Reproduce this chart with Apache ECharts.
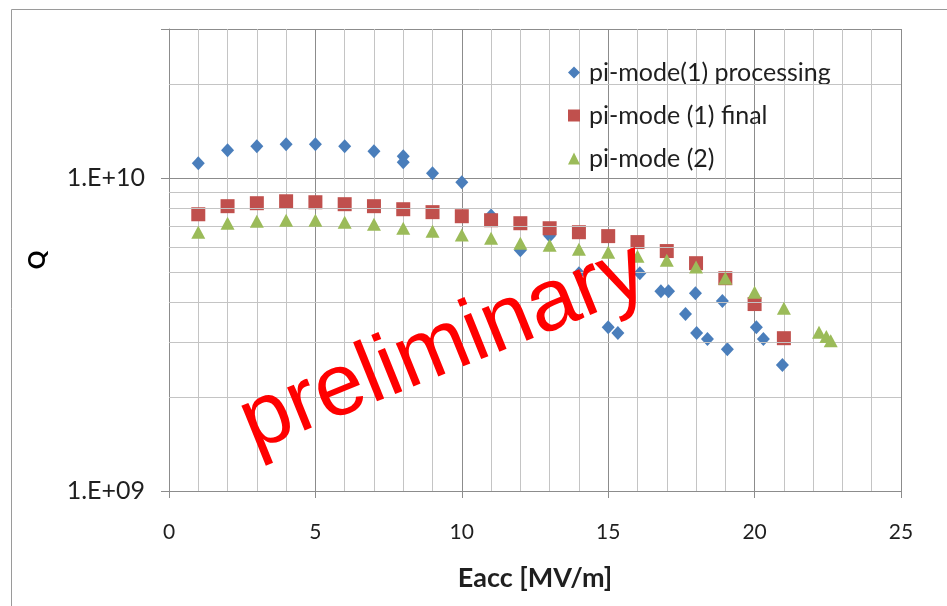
<!DOCTYPE html>
<html>
<head>
<meta charset="utf-8">
<title>Q vs Eacc</title>
<script src="https://cdn.jsdelivr.net/npm/echarts@6/dist/echarts.min.js"></script>
<style>
  html, body { margin: 0; padding: 0; background: #ffffff; }
  #chart { width: 947px; height: 606px; }
</style>
</head>
<body>
<div id="chart"></div>
<script>
// Measured Q0 against accelerating gradient
const processingEacc = [1, 2, 3, 4, 5, 6, 7, 8, 8, 9, 10, 11, 12, 13, 14, 15, 15.33, 16.08, 16.8, 17.06, 17.64, 17.98, 18.02, 18.39, 18.9, 19.07, 20.06, 20.3, 20.95];
const processingQ = [1.117e10, 1.228e10, 1.265e10, 1.284e10, 1.284e10, 1.265e10, 1.219e10, 1.175e10, 1.124e10, 1.038e10, 9.71e9, 7.6e9, 5.89e9, 6.55e9, 4.97e9, 3.34e9, 3.20e9, 4.97e9, 4.35e9, 4.35e9, 3.68e9, 4.29e9, 3.20e9, 3.06e9, 4.05e9, 2.84e9, 3.34e9, 3.06e9, 2.53e9];

const finalEacc = [1, 2, 3, 4, 5, 6, 7, 8, 9, 10, 11, 12, 13, 14, 15, 16, 17, 18, 19, 20, 21];
const finalQ = [7.67e9, 8.14e9, 8.32e9, 8.44e9, 8.38e9, 8.26e9, 8.14e9, 7.96e9, 7.79e9, 7.56e9, 7.34e9, 7.18e9, 6.92e9, 6.72e9, 6.53e9, 6.25e9, 5.85e9, 5.35e9, 4.79e9, 3.96e9, 3.08e9];

const mode2Eacc = [1, 2, 3, 4, 5, 6, 7, 8, 9, 10, 11, 12, 13, 14, 15, 16, 17, 18, 19, 20, 21, 22.2, 22.45, 22.6];
const mode2Q = [6.72e9, 7.18e9, 7.29e9, 7.34e9, 7.34e9, 7.23e9, 7.13e9, 6.92e9, 6.77e9, 6.58e9, 6.43e9, 6.2e9, 6.11e9, 5.93e9, 5.8e9, 5.63e9, 5.47e9, 5.2e9, 4.79e9, 4.32e9, 3.84e9, 3.22e9, 3.12e9, 3.02e9];

const seriesNames = ['pi-mode(1) processing', 'pi-mode (1) final', 'pi-mode (2)'];
const seriesColors = ['#4a7ebb', '#c0504d', '#9bbb59'];

// Log-axis minor gridlines between decades
const minorGridQ = [2e9, 3e9, 4e9, 5e9, 6e9, 7e9, 8e9, 9e9, 2e10];

const FONT = 'Lato, "Open Sans", sans-serif';
const TEXT = '#1f1f1f';

function pairs(xs, ys) { return xs.map((x, i) => [x, ys[i]]); }

function decadeLabel(v) {
  const e = Math.log10(v);
  if (Math.abs(e - Math.round(e)) > 1e-6) return '';
  const n = Math.round(e);
  return '1.E+' + (n < 10 ? '0' + n : String(n));
}

const chart = echarts.init(document.getElementById('chart'), null, { renderer: 'canvas' });

chart.setOption({
  backgroundColor: '#ffffff',
  animation: false,
  textStyle: { fontFamily: FONT },
  grid: { left: 169, right: 46, top: 29, bottom: 115, containLabel: false },
  legend: {
    data: seriesNames.map((n, i) => ({ name: n, icon: ['diamond', 'rect', 'triangle'][i] })),
    orient: 'vertical',
    left: 563,
    top: 55,
    itemWidth: 12,
    itemHeight: 12,
    itemGap: 18,
    textStyle: { fontFamily: FONT, fontSize: 25, lineHeight: 25, color: TEXT, padding: [0, 0, 0, 4] }
  },
  xAxis: {
    type: 'value',
    min: 0,
    max: 25,
    interval: 5,
    name: 'Eacc [MV/m]',
    nameLocation: 'middle',
    nameGap: 74,
    nameTextStyle: { fontFamily: FONT, fontSize: 27, fontWeight: 'bold', color: TEXT },
    axisLine: { show: true, lineStyle: { color: '#8c8c8c', width: 1 } },
    axisTick: { show: true, inside: false, length: 7, lineStyle: { color: '#8c8c8c' } },
    axisLabel: { fontFamily: FONT, fontSize: 21, color: TEXT, margin: 31 },
    splitLine: { show: true, lineStyle: { color: '#8c8c8c', width: 1 } },
    minorTick: { show: false, splitNumber: 5 },
    minorSplitLine: { show: true, lineStyle: { color: '#c4c4c4', width: 1 } }
  },
  yAxis: {
    type: 'log',
    logBase: 10,
    min: 1e9,
    max: 3e10,
    name: 'Q',
    nameLocation: 'middle',
    nameRotate: 90,
    nameGap: 120,
    nameTextStyle: { fontFamily: FONT, fontSize: 23, fontWeight: 'bold', color: '#000000' },
    axisLine: { show: true, lineStyle: { color: '#8c8c8c', width: 1 } },
    axisTick: { show: true, inside: false, length: 8, lineStyle: { color: '#8c8c8c' } },
    axisLabel: { fontFamily: FONT, fontSize: 25, color: TEXT, margin: 24, formatter: decadeLabel },
    splitLine: { show: true, lineStyle: { color: '#8c8c8c', width: 1 } }
  },
  series: [
    {
      name: 'minor-grid',
      type: 'scatter',
      data: [],
      silent: true,
      z: 1,
      markLine: {
        silent: true,
        symbol: ['none', 'none'],
        animation: false,
        label: { show: false },
        lineStyle: { color: '#c4c4c4', width: 1, type: 'solid' },
        emphasis: { disabled: true },
        data: minorGridQ.map(v => ({ yAxis: v }))
      }
    },
    {
      name: seriesNames[0],
      type: 'scatter',
      symbol: 'diamond',
      symbolSize: [13, 14],
      itemStyle: { color: seriesColors[0], opacity: 1 },
      z: 3,
      data: pairs(processingEacc, processingQ)
    },
    {
      name: seriesNames[1],
      type: 'scatter',
      symbol: 'rect',
      symbolSize: 14,
      itemStyle: { color: seriesColors[1], opacity: 1 },
      z: 4,
      data: pairs(finalEacc, finalQ)
    },
    {
      name: seriesNames[2],
      type: 'scatter',
      symbol: 'triangle',
      symbolSize: [14, 13],
      itemStyle: { color: seriesColors[2], opacity: 1 },
      z: 5,
      data: pairs(mode2Eacc, mode2Q)
    }
  ],
  graphic: [
    {
      type: 'rect',
      silent: true,
      shape: { x: 11.5, y: 9.5, width: 960, height: 640 },
      style: { fill: 'none', stroke: '#9a9a9a', lineWidth: 1 },
      z: -1
    },
    {
      type: 'text',
      silent: true,
      x: 444,
      y: 348,
      rotation: 22 * Math.PI / 180,
      z: 100,
      style: {
        text: 'preliminary',
        fill: '#ff0000',
        font: '88px "Liberation Sans", Arial, sans-serif',
        align: 'center',
        verticalAlign: 'middle'
      }
    }
  ]
});
</script>
</body>
</html>
